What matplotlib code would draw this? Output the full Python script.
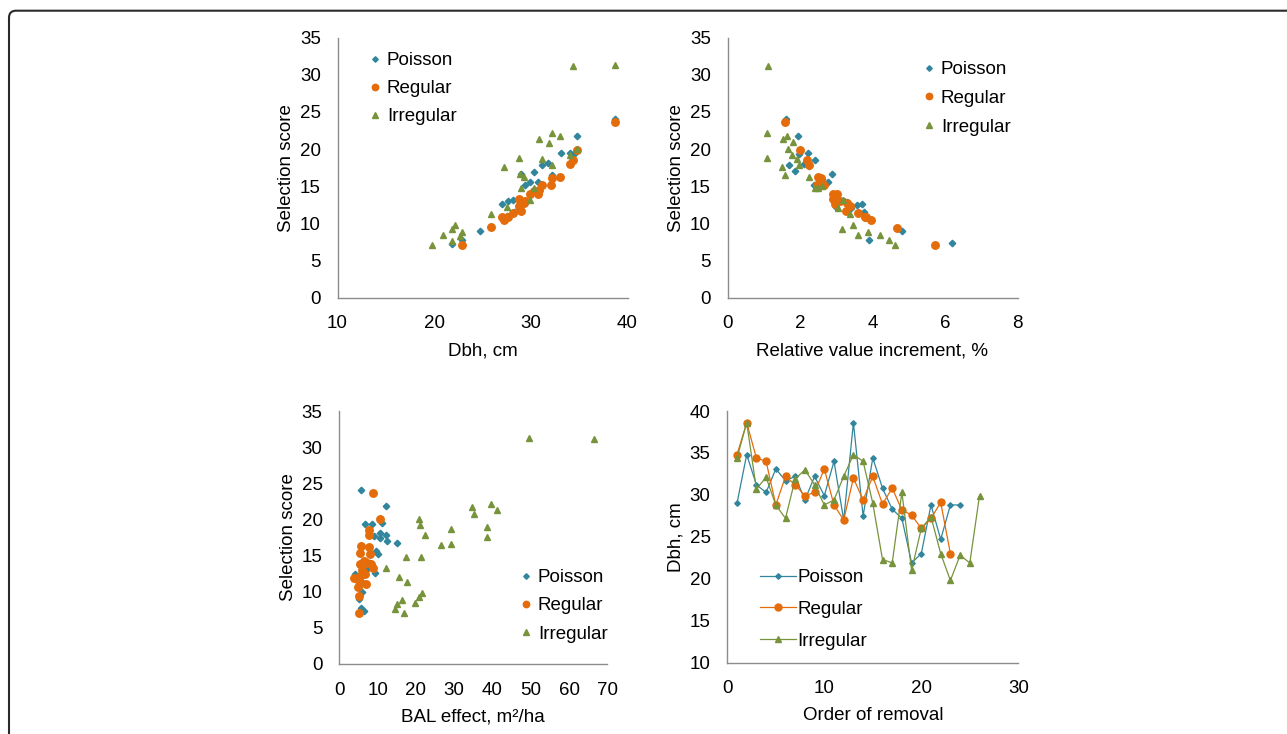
import numpy as np
import matplotlib
matplotlib.use('Agg')
import matplotlib.pyplot as plt
from matplotlib.patches import FancyBboxPatch
from matplotlib.transforms import IdentityTransform

plt.rcParams['font.family'] = ['Liberation Sans', 'DejaVu Sans']

C_POI, C_REG, C_IRR = '#31859C', '#E46C0A', '#77933C'

# ---- panel A: selection score vs dbh ----
dbh_poi = [38.7, 34.8, 33.1, 34.0, 34.5, 31.8, 31.2, 29.0, 30.3, 29.9, 29.4, 30.7, 28.2, 27.6, 27.0,
           24.7, 22.9, 21.8, 29.4, 30.8, 28.3, 28.8, 32.2, 27.5]
sc_poi = [24.0, 21.8, 19.5, 19.5, 19.3, 18.1, 17.8, 16.7, 16.9, 15.6, 15.1, 15.6, 13.1, 13.0, 12.6,
          9.0, 7.8, 7.2, 12.7, 14.3, 11.5, 12.0, 16.5, 11.0]
dbh_reg = [38.7, 34.8, 34.4, 34.0, 33.0, 32.2, 32.1, 31.2, 30.7, 29.9, 28.8, 29.3, 28.8, 29.0, 28.2,
           27.6, 27.0, 27.2, 25.9, 22.9, 30.3, 29.4, 30.8]
sc_reg = [23.7, 19.9, 18.5, 18.0, 16.3, 16.1, 15.2, 15.2, 14.0, 14.0, 13.3, 12.7, 12.3, 11.7, 11.4,
          10.8, 10.9, 10.4, 9.5, 7.1, 14.3, 13.0, 14.5]
dbh_irr = [34.4, 38.7, 32.2, 33.0, 30.8, 31.9, 34.8, 34.0, 28.8, 31.2, 32.2, 27.2, 28.9, 29.3, 29.0,
           30.3, 29.9, 27.5, 25.9, 22.2, 21.8, 22.9, 20.9, 22.7, 21.8, 19.8]
sc_irr = [31.1, 31.3, 22.2, 21.7, 21.3, 20.8, 20.0, 19.2, 18.8, 18.7, 17.8, 17.6, 16.6, 16.3, 14.8,
          14.8, 13.2, 12.2, 11.3, 9.8, 9.2, 8.8, 8.5, 8.3, 7.6, 7.1]

# ---- panel B: selection score vs relative value increment ----
rvi_poi = [1.62, 1.94, 2.22, 1.97, 2.25, 1.70, 1.86, 2.88, 2.78, 2.39, 3.31, 3.56, 3.70, 3.76, 4.80,
           3.91, 6.18, 2.6, 2.9, 3.2, 3.0, 2.4, 2.1, 3.4]
scb_poi = [24.0, 21.8, 19.5, 19.3, 17.7, 17.9, 17.0, 16.7, 15.5, 15.2, 12.9, 12.5, 12.6, 11.5, 9.0,
           7.8, 7.3, 16.0, 14.0, 13.0, 12.2, 18.5, 18.0, 12.0]
rvi_reg = [1.58, 2.0, 2.19, 2.26, 2.51, 2.59, 2.67, 2.46, 2.91, 3.02, 2.97, 3.30, 3.37, 3.26, 3.59,
           3.79, 3.82, 3.95, 4.67, 5.72, 2.9, 3.1, 2.55]
scb_reg = [23.7, 19.9, 18.5, 17.9, 16.3, 16.1, 15.2, 15.1, 14.0, 14.0, 12.6, 12.8, 12.3, 11.7, 11.4,
           10.9, 10.8, 10.4, 9.4, 7.1, 13.3, 13.0, 15.5]
rvi_irr = [1.13, 1.10, 1.63, 1.52, 1.80, 1.66, 1.79, 1.91, 1.09, 1.51, 1.97, 1.58, 2.24, 2.42, 2.49,
           3.19, 3.05, 3.37, 3.45, 3.16, 3.87, 3.60, 4.21, 4.46, 4.62, 2.6]
scb_irr = [31.2, 22.1, 21.7, 21.3, 20.9, 20.0, 19.2, 18.7, 18.8, 17.6, 17.8, 16.5, 16.3, 14.8, 14.8,
           13.2, 12.1, 11.3, 9.8, 9.2, 8.9, 8.5, 8.4, 7.7, 7.1, 15.0]

# ---- panel C: selection score vs BAL effect ----
bal_poi = [5.7, 12.2, 6.8, 8.5, 11.2, 9.1, 10.6, 12.2, 12.4, 15.1, 9.6, 10.0, 9.4, 7.2, 4.1, 5.8,
           5.2, 5.6, 6.4, 5.0, 6.5, 8.0, 6.0, 10.5]
scc_poi = [24.1, 21.8, 19.4, 19.4, 19.5, 17.7, 18.1, 17.9, 17.0, 16.7, 15.7, 15.2, 12.6, 13.1, 12.4,
           11.3, 9.0, 7.8, 7.4, 11.8, 14.2, 14.0, 10.0, 17.5]
bal_reg = [8.9, 10.7, 7.8, 7.7, 5.7, 7.8, 5.4, 7.9, 5.4, 7.3, 8.2, 8.9, 6.1, 6.8, 3.8, 5.1, 7.0, 5.0,
           5.2, 5.2, 6.0, 6.5, 5.5]
scc_reg = [23.7, 20.0, 18.5, 17.9, 16.3, 16.2, 15.3, 15.2, 13.9, 14.0, 13.8, 13.3, 12.7, 12.5, 11.9,
           11.5, 11.0, 10.6, 9.4, 7.1, 13.0, 14.2, 12.2]
bal_irr = [34.6, 35.2, 20.9, 21.1, 29.3, 22.4, 26.6, 29.1, 17.3, 21.3, 12.2, 15.6, 17.6, 21.5, 20.9,
           19.7, 16.3, 15.1, 14.6, 17.0, 39.5, 41.3, 38.5, 38.7, 49.6, 66.6]
scc_irr = [21.7, 20.7, 20.0, 19.2, 18.7, 17.8, 16.4, 16.6, 14.8, 14.8, 13.3, 12.1, 11.3, 9.8, 9.3,
           8.5, 8.9, 8.3, 7.6, 7.1, 22.1, 21.3, 18.9, 17.6, 31.2, 31.1]

# ---- panel D: dbh by order of removal ----
ord_dbh_poi = [29.0, 34.8, 31.2, 30.3, 33.1, 31.7, 32.2, 29.4, 32.2, 29.9, 34.0, 27.0, 38.6, 27.5,
               34.4, 30.8, 28.3, 27.2, 21.9, 23.0, 28.8, 24.7, 28.8, 28.8]
ord_dbh_reg = [34.8, 38.6, 34.4, 34.0, 28.8, 32.2, 31.2, 29.9, 30.3, 33.1, 28.8, 27.0, 32.0, 29.4,
               32.2, 28.9, 30.8, 28.2, 27.6, 26.0, 27.2, 29.1, 23.0]
ord_dbh_irr = [34.4, 38.6, 30.7, 32.1, 28.8, 27.2, 31.9, 33.0, 31.2, 28.8, 29.4, 32.2, 34.8, 34.0,
               29.0, 22.3, 21.9, 30.3, 21.0, 26.0, 27.4, 23.0, 19.8, 22.8, 21.9, 29.9]

W, H = 1287, 734
fig = plt.figure(figsize=(W / 100, H / 100), dpi=100)

def px_axes(l, r, top, bot):
    return fig.add_axes([l / W, 1 - bot / H, (r - l) / W, (bot - top) / H])

FS = 13.5

def style(ax, xlim, ylim, xt, yt, xlabel, ylabel):
    ax.set_xlim(*xlim); ax.set_ylim(*ylim)
    ax.set_xticks(xt); ax.set_yticks(yt)
    for s in ['top', 'right']:
        ax.spines[s].set_visible(False)
    for s in ['left', 'bottom']:
        ax.spines[s].set_color('#8c8c8c'); ax.spines[s].set_linewidth(1.0)
    ax.tick_params(axis='y', length=0, pad=12, labelsize=FS)
    ax.tick_params(axis='x', length=0, pad=12.8, labelsize=FS)
    ax.set_xlabel(xlabel, fontsize=FS, labelpad=7)
    ax.set_ylabel(ylabel, fontsize=FS, labelpad=3.5)

def scat(ax, xs, ys):
    ax.plot(xs[0], ys[0], 'D', ls='none', ms=3.3, color=C_POI, label='Poisson', clip_on=False)
    ax.plot(xs[1], ys[1], 'o', ls='none', ms=5.4, color=C_REG, label='Regular', clip_on=False)
    ax.plot(xs[2], ys[2], '^', ls='none', ms=5.0, color=C_IRR, label='Irregular', clip_on=False)

def leg(ax, x, y, **kw):
    ax.legend(loc='upper left', bbox_to_anchor=(x / W, 1 - y / H), bbox_transform=fig.transFigure,
              frameon=False, fontsize=FS, borderpad=0, borderaxespad=0, **kw)

ax1 = px_axes(337.5, 627.5, 37.5, 297.7)
scat(ax1, (dbh_poi, dbh_reg, dbh_irr), (sc_poi, sc_reg, sc_irr))
style(ax1, (10, 40), (0, 35), [10, 20, 30, 40], range(0, 36, 5), 'Dbh, cm', 'Selection score')
leg(ax1, 369, 52, handlelength=0.6, handletextpad=0.35, labelspacing=0.58, markerscale=0.85)

ax2 = px_axes(727.5, 1017.5, 37.5, 297.7)
scat(ax2, (rvi_poi, rvi_reg, rvi_irr), (scb_poi, scb_reg, scb_irr))
style(ax2, (0, 8), (0, 35), range(0, 9, 2), range(0, 36, 5), 'Relative value increment, %', 'Selection score')
leg(ax2, 923, 61, handlelength=0.6, handletextpad=0.35, labelspacing=0.62, markerscale=0.85)

ax3 = px_axes(339.3, 607.3, 411, 664)
scat(ax3, (bal_poi, bal_reg, bal_irr), (scc_poi, scc_reg, scc_irr))
style(ax3, (0, 70), (0, 35), range(0, 71, 10), range(0, 36, 5), 'BAL effect, m²/ha', 'Selection score')
leg(ax3, 520, 569, handlelength=0.6, handletextpad=0.35, labelspacing=0.6, markerscale=0.85)

ax4 = px_axes(727.3, 1018.3, 411, 662.7)
ax4.plot(range(1, len(ord_dbh_poi) + 1), ord_dbh_poi, '-D', color=C_POI, lw=0.9, ms=2.8, label='Poisson', clip_on=False)
ax4.plot(range(1, len(ord_dbh_reg) + 1), ord_dbh_reg, '-o', color=C_REG, lw=0.9, ms=5.0, label='Regular', clip_on=False)
ax4.plot(range(1, len(ord_dbh_irr) + 1), ord_dbh_irr, '-^', color=C_IRR, lw=0.9, ms=4.6, label='Irregular', clip_on=False)
style(ax4, (0, 30), (10, 40), [0, 10, 20, 30], range(10, 41, 5), 'Order of removal', 'Dbh, cm')
leg(ax4, 760, 569, handlelength=1.9, handletextpad=0.1, labelspacing=0.78)

# outer rounded frame (clipped at right and bottom like the source)
frame = FancyBboxPatch((9, -60), 1320, H - 10.7 + 60, boxstyle='round,pad=0,rounding_size=7',
                       transform=IdentityTransform(), fill=False, lw=1.5, ec='#2a2a2a')
fig.patches.append(frame)

fig.savefig('out.png', dpi=100)
